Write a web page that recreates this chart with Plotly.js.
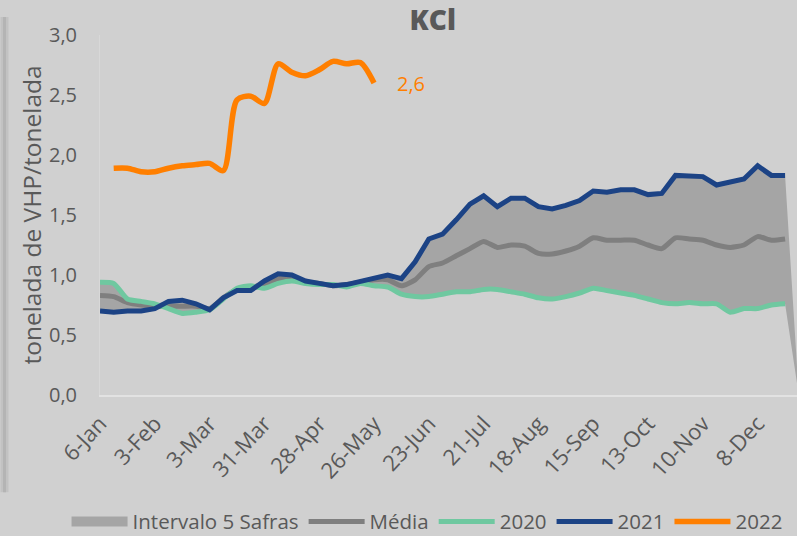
<!DOCTYPE html>
<html>
<head>
<meta charset="utf-8">
<script src="https://cdn.plot.ly/plotly-3.0.1.min.js"></script>
<style>
  html, body { margin: 0; padding: 0; background: #d0d0d0; overflow: hidden; }
  #chart { width: 797px; height: 536px; }
</style>
</head>
<body>
<div id="chart"></div>
<script>
// Weekly categories
const weeks = ["6-Jan","13-Jan","20-Jan","27-Jan","3-Feb","10-Feb","17-Feb","24-Feb",
  "3-Mar","10-Mar","17-Mar","24-Mar","31-Mar","7-Apr","14-Apr","21-Apr","28-Apr",
  "5-May","12-May","19-May","26-May","2-Jun","9-Jun","16-Jun","23-Jun","30-Jun",
  "7-Jul","14-Jul","21-Jul","28-Jul","4-Aug","11-Aug","18-Aug","25-Aug","1-Sep",
  "8-Sep","15-Sep","22-Sep","29-Sep","6-Oct","13-Oct","20-Oct","27-Oct","3-Nov",
  "10-Nov","17-Nov","24-Nov","1-Dec","8-Dec","15-Dec","22-Dec","29-Dec"];

// Intervalo 5 Safras (min / max)
const bandMin = [0.70,0.69,0.70,0.70,0.72,0.72,0.68,0.69,0.71,0.80,0.87,0.87,0.89,0.93,0.95,0.93,
  0.92,0.91,0.90,0.93,0.91,0.90,0.84,0.82,0.82,0.84,0.86,0.86,0.88,0.88,0.86,0.84,0.81,0.80,
  0.82,0.85,0.89,0.87,0.85,0.83,0.80,0.77,0.76,0.77,0.76,0.76,0.69,0.72,0.72,0.75,0.76,0];
const bandMax = [0.94,0.93,0.80,0.78,0.76,0.78,0.79,0.76,0.72,0.81,0.89,0.91,0.95,1.01,1.00,0.95,
  0.93,0.92,0.92,0.95,0.98,1.00,0.97,1.11,1.30,1.34,1.46,1.59,1.66,1.57,1.64,1.64,1.57,1.55,
  1.58,1.62,1.70,1.69,1.71,1.71,1.67,1.68,1.83,1.82,1.82,1.75,1.78,1.80,1.91,1.83,1.83,0];

const media = [0.83,0.82,0.77,0.75,0.74,0.74,0.74,0.74,0.72,0.81,0.88,0.90,0.92,0.97,0.97,0.94,
  0.93,0.91,0.92,0.94,0.96,0.96,0.91,0.96,1.07,1.10,1.16,1.22,1.28,1.23,1.25,1.24,1.18,1.175,
  1.20,1.24,1.31,1.29,1.29,1.29,1.25,1.22,1.31,1.30,1.29,1.25,1.23,1.25,1.32,1.29,1.30];

const y2020 = [0.94,0.93,0.80,0.78,0.76,0.72,0.68,0.69,0.71,0.80,0.89,0.91,0.89,0.93,0.95,0.93,
  0.92,0.92,0.90,0.93,0.91,0.90,0.84,0.82,0.82,0.84,0.86,0.86,0.88,0.88,0.86,0.84,0.81,0.80,
  0.82,0.85,0.89,0.87,0.85,0.83,0.80,0.77,0.76,0.77,0.76,0.76,0.69,0.72,0.72,0.75,0.76];

const y2021 = [0.70,0.69,0.70,0.70,0.72,0.78,0.79,0.76,0.71,0.81,0.87,0.87,0.95,1.01,1.00,0.95,
  0.93,0.91,0.92,0.95,0.98,1.00,0.97,1.11,1.30,1.34,1.46,1.59,1.66,1.57,1.64,1.64,1.57,1.55,
  1.58,1.62,1.70,1.69,1.71,1.71,1.67,1.68,1.83,1.82,1.82,1.75,1.78,1.80,1.91,1.83,1.83];

const y2022 = [null,1.89,1.89,1.86,1.86,1.89,1.91,1.92,1.93,1.87,2.46,2.49,2.43,2.76,2.69,2.66,
  2.71,2.78,2.76,2.77,2.60];

const seriesNames = ["Intervalo 5 Safras","Média","2020","2021","2022"];

const textColor = "#595959";
const bg = "#d0d0d0";
const bandColor = "#a5a5a5";

const traces = [
  { x: weeks, y: bandMin, type: "scatter", mode: "lines", line: {width: 0, color: "rgba(0,0,0,0)"},
    showlegend: false, hoverinfo: "skip" },
  { x: weeks, y: bandMax, type: "scatter", mode: "lines", name: seriesNames[0],
    line: {width: 0, color: bandColor}, fill: "tonexty", fillcolor: bandColor, showlegend: false },
  // legend swatch for the band
  { x: [null], y: [null], type: "scatter", mode: "lines", name: seriesNames[0],
    line: {width: 15, color: bandColor} },
  { x: weeks.slice(0, media.length), y: media, type: "scatter", mode: "lines", name: seriesNames[1],
    line: {width: 5, color: "#7f7f7f", shape: "spline", smoothing: 0.6} },
  { x: weeks.slice(0, y2020.length), y: y2020, type: "scatter", mode: "lines", name: seriesNames[2],
    line: {width: 5, color: "#6fc8a0", shape: "spline", smoothing: 0.6} },
  { x: weeks.slice(0, y2021.length), y: y2021, type: "scatter", mode: "lines", name: seriesNames[3],
    line: {width: 5, color: "#1c4385"} },
  { x: weeks.slice(0, y2022.length), y: y2022, type: "scatter", mode: "lines", name: seriesNames[4],
    line: {width: 5.5, color: "#ff7f00", shape: "spline", smoothing: 0.8} }
];

const lastIdx = y2022.length - 1;
const lastVal = y2022[lastIdx];

const layout = {
  width: 797, height: 536, autosize: false,
  paper_bgcolor: bg, plot_bgcolor: bg,
  separators: ",.",
  margin: {l: 100, r: 0, t: 35, b: 141, autoexpand: false},
  font: {family: "Open Sans, sans-serif", color: textColor},
  title: {text: "KCl", x: 0.543, xref: "container", xanchor: "center",
          y: 0.962, yref: "container", yanchor: "middle",
          font: {size: 28, weight: 800, color: textColor, family: "Open Sans, sans-serif"}},
  xaxis: {
    type: "category", range: [0, 50.87], tickmode: "linear", tick0: 0, dtick: 4,
    tickangle: -47, tickfont: {size: 22, color: textColor}, ticklabelstandoff: 5,
    showgrid: false, zeroline: false, showline: true, linecolor: "#e2e2e2", linewidth: 2,
    ticks: "", fixedrange: true, automargin: false
  },
  yaxis: {
    range: [0, 3], dtick: 0.5, tick0: 0, tickformat: ".1f",
    tickfont: {size: 20, color: textColor}, ticklabelstandoff: 18,
    showgrid: false, zeroline: false, showline: true, linecolor: "#d8d8d8", linewidth: 1,
    ticks: "", automargin: false,
    title: {text: "tonelada de VHP/tonelada", font: {size: 24.5, color: textColor}, standoff: 0}
  },
  legend: {
    orientation: "h", x: -0.048, xanchor: "left", y: -0.296, yanchor: "top",
    font: {size: 20.5, color: textColor}, itemwidth: 56, bgcolor: "rgba(0,0,0,0)",
    traceorder: "normal", borderwidth: 0
  },
  annotations: [{
    x: weeks[lastIdx], y: lastVal, xref: "x", yref: "y",
    text: lastVal.toFixed(1).replace(".", ","), showarrow: false,
    xanchor: "left", yanchor: "middle", xshift: 21,
    font: {size: 20, color: "#ff7f00"}
  }],
  shapes: [
    {type: "line", xref: "paper", yref: "paper", x0: -0.137, x1: -0.137, y0: 1.05, y1: -0.27,
     line: {color: "#c2c2c2", width: 8}},
    {type: "line", xref: "paper", yref: "paper", x0: -0.137, x1: -0.137, y0: 1.05, y1: -0.27,
     line: {color: "#b4b4b4", width: 3}}
  ]
};

Plotly.newPlot("chart", traces, layout, {displayModeBar: false, staticPlot: true});
</script>
</body>
</html>
